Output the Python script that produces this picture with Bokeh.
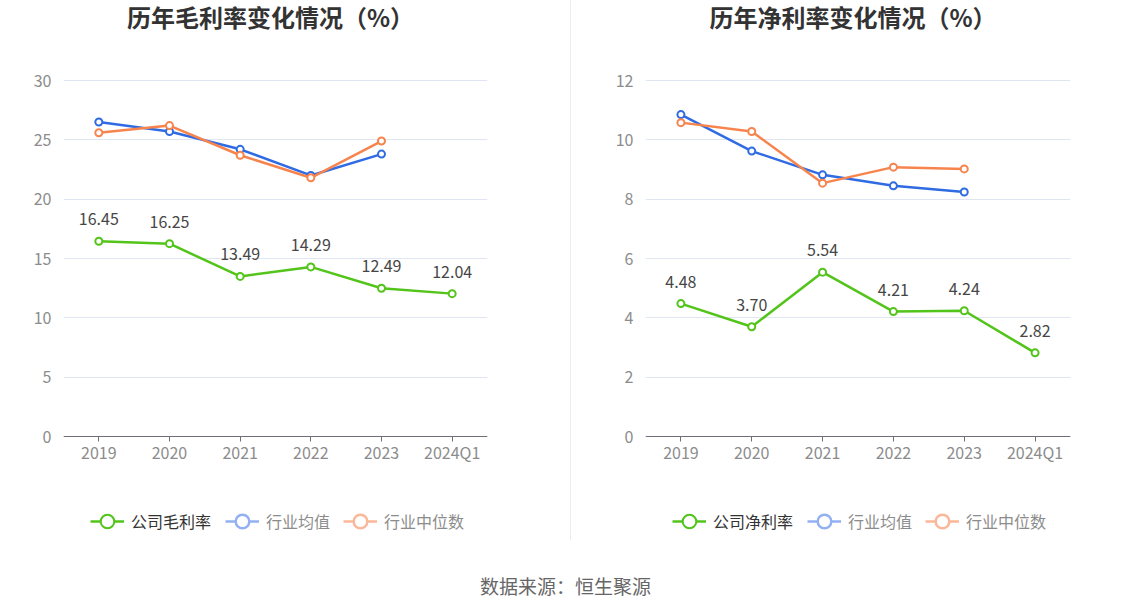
from bokeh.plotting import figure
from bokeh.models import (ColumnDataSource, FixedTicker, Legend, LegendItem, Div,
                          Range1d, Label)
from bokeh.layouts import row, column
from bokeh.embed import file_html
from bokeh.resources import INLINE
from bokeh.core.properties import value

# ---------------- data ----------------
categories = ["2019", "2020", "2021", "2022", "2023", "2024Q1"]
industry_categories = ["2019", "2020", "2021", "2022", "2023"]

gross_company = [16.45, 16.25, 13.49, 14.29, 12.49, 12.04]
gross_industry_mean = [26.5, 25.7, 24.2, 22.0, 23.8]
gross_industry_median = [25.6, 26.2, 23.7, 21.8, 24.9]

net_company = [4.48, 3.70, 5.54, 4.21, 4.24, 2.82]
net_industry_mean = [10.85, 9.62, 8.82, 8.45, 8.24]
net_industry_median = [10.58, 10.28, 8.54, 9.08, 9.02]

gross_ticks = [0, 5, 10, 15, 20, 25, 30]
net_ticks = [0, 2, 4, 6, 8, 10, 12]

gross_title = "历年毛利率变化情况（%）"
net_title = "历年净利率变化情况（%）"
gross_label = "公司毛利率"
net_label = "公司净利率"
mean_label = "行业均值"
median_label = "行业中位数"
source_text = "数据来源：恒生聚源"

# ---------------- style / layout ----------------
FONT = "Noto Sans CJK SC"
GREEN = "#52c41a"
BLUE = "#2f6be2"
ORANGE = "#f7834d"
BLUE_FADED = "#93b1f2"
ORANGE_FADED = "#fbb799"
NAN = float("nan")

PANEL_H = 572
BORDER_BOTTOM = 32
FRAME_H = PANEL_H - BORDER_BOTTOM   # frame spans from the top of the panel
TOP_GRID_Y = 80                      # pixel row of the highest tick
AXIS_Y = 436                         # pixel row of the x axis (value 0)


def make_panel(title_text, company_label, company, mean, median, ticks,
               width, border_left, border_right):
    scale = (AXIS_Y - TOP_GRID_Y) / (ticks[-1] - ticks[0])
    y_hi = ticks[-1] + TOP_GRID_Y / scale
    y_lo = ticks[0] - (FRAME_H - AXIS_Y) / scale
    frame_w = width - border_left - border_right

    p = figure(x_range=categories, y_range=Range1d(y_lo, y_hi),
               width=width, height=PANEL_H, output_backend="svg",
               toolbar_location=None, min_border_left=border_left,
               min_border_right=border_right, min_border_top=0,
               min_border_bottom=BORDER_BOTTOM, outline_line_color=None)

    p.xaxis.fixed_location = ticks[0]
    p.xaxis.axis_line_color = "#6e7079"
    p.xaxis.axis_line_width = 1
    p.xaxis.major_tick_line_color = "#6e7079"
    p.xaxis.major_tick_in = 0
    p.xaxis.major_tick_out = 5
    p.xaxis.minor_tick_line_color = None
    p.xaxis.major_label_text_color = "#8c8c8c"
    p.xaxis.major_label_text_font = FONT
    p.xaxis.major_label_text_font_size = "16px"
    p.xaxis.major_label_standoff = -2

    p.yaxis.ticker = FixedTicker(ticks=ticks)
    p.yaxis.axis_line_color = None
    p.yaxis.major_tick_line_color = None
    p.yaxis.minor_tick_line_color = None
    p.yaxis.major_label_text_color = "#8c8c8c"
    p.yaxis.major_label_text_font = FONT
    p.yaxis.major_label_text_font_size = "16px"
    p.yaxis.major_label_standoff = 6

    p.xgrid.grid_line_color = None
    p.ygrid.grid_line_color = "#e0e6f1"
    p.ygrid.grid_line_width = 1

    # title
    p.add_layout(Label(x=frame_w / 2 - 5, y=FRAME_H - 16, x_units="screen",
                       y_units="screen", text=title_text, text_align="center",
                       text_baseline="middle", text_font=FONT,
                       text_font_size="24px", text_font_style="bold",
                       text_color="#333333"))

    # industry mean
    p.line(industry_categories, mean, line_color=BLUE, line_width=2.5)
    p.scatter(industry_categories, mean, marker="circle", size=7,
              fill_color="white", line_color=BLUE, line_width=2)
    # industry median
    p.line(industry_categories, median, line_color=ORANGE, line_width=2.5)
    p.scatter(industry_categories, median, marker="circle", size=7,
              fill_color="white", line_color=ORANGE, line_width=2)
    # company
    src = ColumnDataSource(dict(x=categories, y=company,
                                label=[f"{v:.2f}" for v in company]))
    lc = p.line("x", "y", source=src, line_color=GREEN, line_width=2.5)
    sc = p.scatter("x", "y", source=src, marker="circle", size=7,
                   fill_color="white", line_color=GREEN, line_width=2)
    p.text("x", "y", text="label", source=src, text_font=value(FONT),
           text_font_size="16px", text_color="#464646", text_align="center",
           text_baseline="bottom", y_offset=-16)

    # legend-only renderers (faded industry icons); their single value is
    # NaN so they draw nothing inside the plot
    lm = p.line(x=categories[:1], y=[NAN], line_color=BLUE_FADED, line_width=2.5)
    sm = p.scatter(x=categories[:1], y=[NAN], marker="circle", size=7,
                   fill_color="white", line_color=BLUE_FADED, line_width=2.5)
    lmed = p.line(x=categories[:1], y=[NAN], line_color=ORANGE_FADED,
                  line_width=2.5)
    smed = p.scatter(x=categories[:1], y=[NAN], marker="circle", size=7,
                     fill_color="white", line_color=ORANGE_FADED, line_width=2.5)

    common = dict(orientation="horizontal", glyph_width=34, glyph_height=34,
                  label_standoff=7, padding=0, margin=0, spacing=13,
                  border_line_color=None, background_fill_alpha=0,
                  label_text_font=FONT, label_text_font_size="16px")
    leg_a = Legend(items=[LegendItem(label=company_label, renderers=[lc, sc])],
                   location=(27, 2), label_text_color="#333333", **common)
    leg_b = Legend(items=[LegendItem(label=mean_label, renderers=[lm, sm]),
                          LegendItem(label=median_label, renderers=[lmed, smed])],
                   location=(162, 2), label_text_color="#8c8c8c", **common)
    p.add_layout(leg_a)
    p.add_layout(leg_b)
    return p


left = make_panel(gross_title, gross_label, gross_company, gross_industry_mean,
                  gross_industry_median, gross_ticks, 570, 63, 83)
right = make_panel(net_title, net_label, net_company, net_industry_mean,
                   net_industry_median, net_ticks, 563, 74, 64)

sep = Div(text="", width=1, height=540, margin=(0, 0, 0, 0),
          styles={"background-color": "#ececec"})

FOOT_W, FOOT_H = 1134, 40
foot = figure(width=FOOT_W, height=FOOT_H, output_backend="svg",
              toolbar_location=None, x_axis_type=None, y_axis_type=None,
              outline_line_color=None, min_border=0,
              x_range=Range1d(0, 1), y_range=Range1d(0, 1))
foot.grid.visible = False
foot.add_layout(Label(x=FOOT_W / 2 - 2, y=FOOT_H - 13, x_units="screen",
                      y_units="screen", text=source_text, text_align="center",
                      text_baseline="middle", text_font=FONT,
                      text_font_size="19px", text_color="#666666"))

layout = column(row(left, sep, right), foot)

open("out.html", "w").write(file_html(layout, INLINE))
